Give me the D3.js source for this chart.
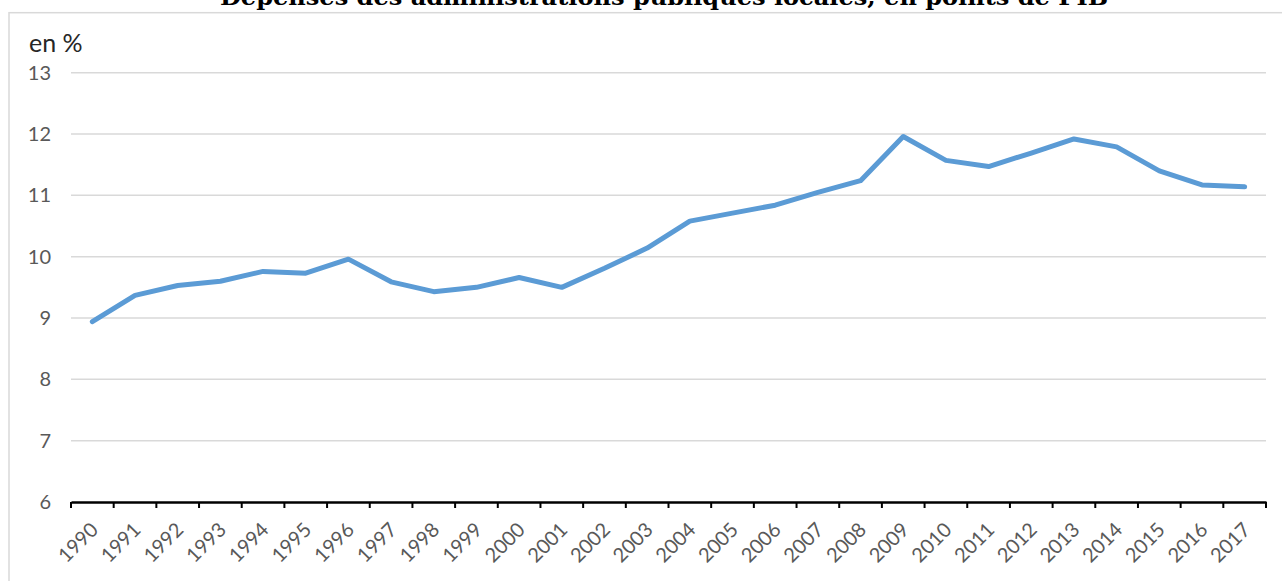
<!DOCTYPE html>
<html>
<head>
<meta charset="utf-8">
<script src="https://cdn.jsdelivr.net/npm/d3@7"></script>
<style>
  html, body { margin: 0; padding: 0; background: #fff; overflow: hidden; }
  svg { display: block; }
</style>
</head>
<body>
<svg id="chart" width="1282" height="581"></svg>
<script>
const title = "Dépenses des administrations publiques locales, en points de PIB";
const unitLabel = "en %";
const years = ["1990","1991","1992","1993","1994","1995","1996","1997","1998","1999",
  "2000","2001","2002","2003","2004","2005","2006","2007","2008","2009",
  "2010","2011","2012","2013","2014","2015","2016","2017"];
const values = [8.94, 9.37, 9.53, 9.60, 9.76, 9.73, 9.96, 9.59, 9.43, 9.50,
  9.66, 9.50, 9.81, 10.14, 10.58, 10.71, 10.84, 11.05, 11.24, 11.96,
  11.57, 11.47, 11.69, 11.92, 11.79, 11.40, 11.17, 11.14];
const yTicks = [6, 7, 8, 9, 10, 11, 12, 13];

const svg = d3.select("#chart");
const W = 1282, H = 581;
const m = { left: 71, right: 1266, top: 72.7, bottom: 502 };

// outer frame
svg.append("rect")
  .attr("x", 9).attr("y", 12.7)
  .attr("width", W + 20).attr("height", H + 20)
  .attr("fill", "none").attr("stroke", "#d9d9d9").attr("stroke-width", 1.5);

// title (clipped at top, as in the reference)
svg.append("text")
  .attr("x", 664).attr("y", 4.5)
  .attr("text-anchor", "middle")
  .attr("font-family", "'DejaVu Serif', serif")
  .attr("font-weight", "bold")
  .attr("font-size", 22)
  .attr("textLength", 888)
  .attr("lengthAdjust", "spacingAndGlyphs")
  .attr("fill", "#000")
  .text(title);

const x = d3.scaleBand().domain(years).range([m.left, m.right]).padding(0);
const y = d3.scaleLinear().domain([6, 13]).range([m.bottom, m.top]);

// gridlines
svg.append("g")
  .selectAll("line")
  .data(yTicks.filter(t => t !== 6))
  .join("line")
  .attr("x1", m.left).attr("x2", m.right)
  .attr("y1", d => y(d)).attr("y2", d => y(d))
  .attr("stroke", "#d9d9d9").attr("stroke-width", 1.5);

// y axis labels
const yAxis = d3.axisLeft(y).tickValues(yTicks).tickSize(0).tickPadding(20).tickFormat(d3.format("d"));
const gy = svg.append("g").attr("transform", `translate(${m.left},0)`).call(yAxis);
gy.select(".domain").remove();
gy.selectAll("text")
  .attr("font-family", "Lato, 'Open Sans', sans-serif")
  .attr("font-size", 20)
  .attr("fill", "#595959");

// x axis
const xAxis = d3.axisBottom(x).tickSize(0).tickFormat(d => d);
const gx = svg.append("g").attr("transform", `translate(0,${m.bottom})`).call(xAxis);
gx.select(".domain").attr("stroke", "#000").attr("stroke-width", 2.5);
gx.selectAll(".tick line").remove();
gx.selectAll(".tick text")
  .attr("font-family", "Lato, 'Open Sans', sans-serif")
  .attr("font-size", 20)
  .attr("fill", "#595959")
  .attr("text-anchor", "end")
  .attr("dy", null)
  .attr("y", 0)
  .attr("transform", "translate(7,29) rotate(-45)");

// tick marks between categories
const tickPos = years.map(d => x(d)).concat([m.right]);
svg.append("g")
  .selectAll("line")
  .data(tickPos)
  .join("line")
  .attr("x1", d => d).attr("x2", d => d)
  .attr("y1", m.bottom).attr("y2", m.bottom + 6)
  .attr("stroke", "#000").attr("stroke-width", 2);

// unit label
svg.append("text")
  .attr("x", 29).attr("y", 52)
  .attr("font-family", "Lato, 'Open Sans', sans-serif")
  .attr("font-size", 25)
  .attr("fill", "#262626")
  .text(unitLabel);

// line
const line = d3.line()
  .x((d, i) => x(years[i]) + x.bandwidth() / 2)
  .y(d => y(d));
svg.append("path")
  .datum(values)
  .attr("d", line)
  .attr("fill", "none")
  .attr("stroke", "#5b9bd5")
  .attr("stroke-width", 5)
  .attr("stroke-linejoin", "round")
  .attr("stroke-linecap", "round");
</script>
</body>
</html>
